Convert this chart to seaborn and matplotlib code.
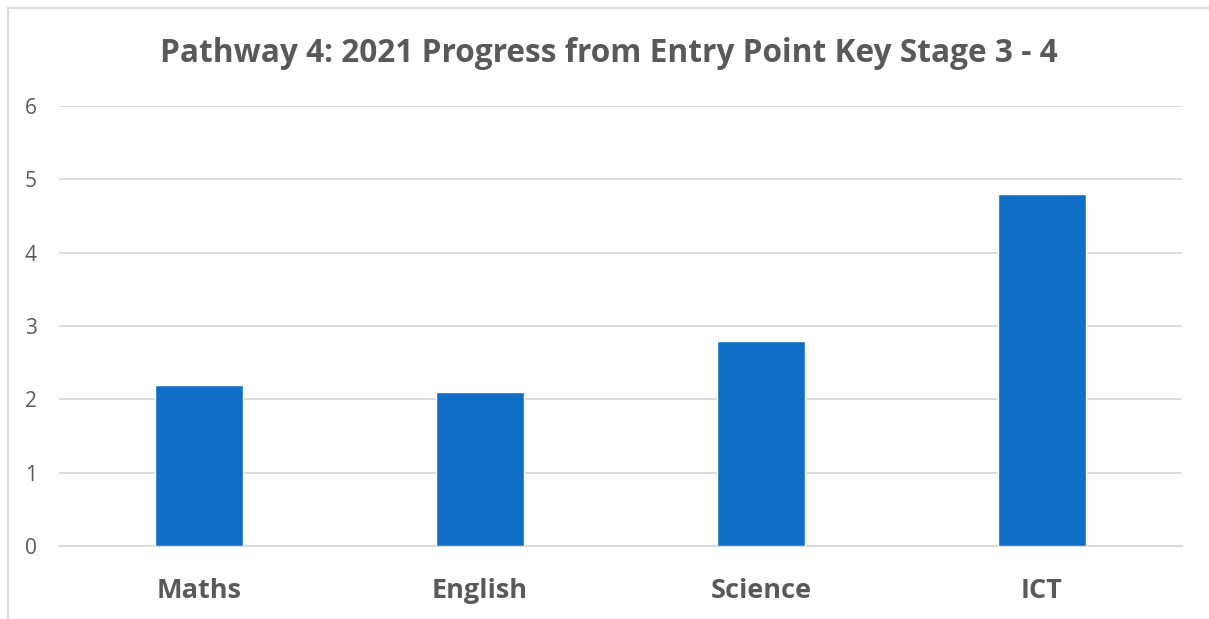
import matplotlib
matplotlib.use("Agg")
import matplotlib.pyplot as plt
from matplotlib.patches import Rectangle
import seaborn as sns
import pandas as pd

subjects = ["Maths", "English", "Science", "ICT"]
progress = [2.2, 2.1, 2.8, 4.8]
y_ticks = [0, 1, 2, 3, 4, 5, 6]
title = "Pathway 4: 2021 Progress from Entry Point Key Stage 3 - 4"

sns.set_theme(style="white")
plt.rcParams["font.family"] = ["Open Sans", "DejaVu Sans"]

W, H = 1209, 619
fig = plt.figure(figsize=(W / 100, H / 100), dpi=100)

# light chart frame, running off the right and bottom edges
fig.patches.append(Rectangle((7.5 / W, -0.1), 1.2, 1 - 7.5 / H + 0.1,
                             transform=fig.transFigure, fill=False,
                             edgecolor="#d9d9d9", linewidth=1.5))

left, right, bottom, top = 59, 1182, 546, 106
ax = fig.add_axes([left / W, 1 - bottom / H, (right - left) / W, (bottom - top) / H])

df = pd.DataFrame({"subject": subjects, "progress": progress})
sns.barplot(data=df, x="subject", y="progress", color="#0f6fc6", saturation=1,
            width=0.313, ax=ax, zorder=3)

ax.set_ylim(0, 6)
ax.set_xlim(-0.5, len(subjects) - 0.5)
ax.set_yticks(y_ticks)
ax.yaxis.grid(True, color="#d9d9d9", linewidth=1.3, zorder=0)
ax.set_axisbelow(True)
for s in ["top", "right", "left"]:
    ax.spines[s].set_visible(False)
ax.spines["bottom"].set_color("#d9d9d9")
ax.spines["bottom"].set_linewidth(1.5)
ax.set_xlabel("")
ax.set_ylabel("")
ax.tick_params(axis="y", length=0, pad=16, labelsize=15, labelcolor="#595959")
ax.tick_params(axis="x", length=0, pad=23, labelsize=19.5, labelcolor="#595959")
for lbl in ax.get_xticklabels():
    lbl.set_fontweight("bold")

fig.text(609 / W, 1 - 54 / H, title, ha="center", va="center",
         fontsize=22.8, fontweight="bold", color="#595959")

fig.savefig("out.png", dpi=100)
